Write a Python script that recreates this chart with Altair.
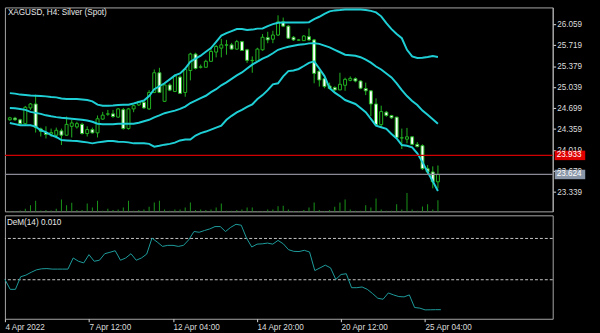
import json
import altair as alt
import pandas as pd

# ---------------- data ----------------
title_text = "XAGUSD, H4:  Silver (Spot)"
dem_title = "DeM(14) 0.010"

open_ = [24.510, 24.537, 24.510, 24.447, 24.702, 24.766, 24.362, 24.303, 24.279, 24.260,
         24.330, 24.260, 24.404, 24.394, 24.436, 24.287, 24.351, 24.298, 24.521, 24.601,
         24.606, 24.553, 24.675, 24.367, 24.686, 24.750, 24.793, 24.686, 24.953, 25.272,
         24.809, 25.074, 24.969, 25.202, 24.953, 25.309, 25.575, 25.361, 25.361, 25.457,
         25.607, 25.671, 25.719, 25.724, 25.655, 25.776, 25.644, 25.468, 25.457, 25.644,
         25.841, 25.815, 25.883, 26.096, 26.027, 25.847, 25.799, 25.792, 25.856, 25.804,
         25.298, 25.176, 25.058, 25.032, 24.994, 25.069, 25.149, 25.176, 25.138, 25.016,
         24.979, 24.766, 24.431, 24.633, 24.579, 24.553, 24.215, 24.196, 24.234, 24.112,
         24.091, 23.718, 23.665, 23.505]
close = [24.542, 24.510, 24.447, 24.713, 24.766, 24.383, 24.324, 24.271, 24.303, 24.340,
         24.260, 24.436, 24.458, 24.447, 24.287, 24.351, 24.298, 24.526, 24.585, 24.606,
         24.563, 24.686, 24.367, 24.686, 24.739, 24.803, 24.702, 24.953, 25.272, 24.953,
         25.074, 24.990, 25.218, 24.937, 25.325, 25.575, 25.341, 25.368, 25.457, 25.617,
         25.697, 25.724, 25.724, 25.655, 25.776, 25.633, 25.473, 25.473, 25.655, 25.847,
         25.804, 25.883, 26.096, 26.027, 25.831, 25.804, 25.804, 25.867, 25.804, 25.261,
         25.154, 25.048, 25.016, 24.994, 25.085, 25.165, 25.181, 25.138, 25.021, 24.979,
         24.766, 24.431, 24.643, 24.579, 24.542, 24.223, 24.218, 24.234, 24.112, 24.075,
         23.718, 23.665, 23.505, 23.624]
high = [24.558, 24.558, 24.526, 24.734, 24.782, 24.915, 24.383, 24.404, 24.367, 24.383,
        24.367, 24.563, 24.510, 24.478, 24.463, 24.404, 24.383, 24.579, 24.638, 24.670,
        24.670, 24.702, 24.702, 24.702, 24.755, 24.819, 24.814, 24.990, 25.325, 25.352,
        25.085, 25.101, 25.245, 25.229, 25.341, 25.596, 25.596, 25.404, 25.484, 25.671,
        25.724, 25.820, 25.804, 25.756, 25.804, 25.788, 25.660, 25.537, 25.676, 25.899,
        25.936, 25.952, 26.202, 26.166, 26.043, 25.867, 25.820, 25.883, 25.990, 25.820,
        25.309, 25.197, 25.112, 25.053, 25.272, 25.192, 25.213, 25.197, 25.149, 25.112,
        24.990, 24.857, 24.739, 24.654, 24.590, 24.558, 24.367, 24.378, 24.239, 24.149,
        24.112, 23.776, 23.755, 23.770]
low = [24.494, 24.494, 24.431, 24.431, 24.670, 24.303, 24.239, 24.207, 24.234, 24.207,
       24.101, 24.255, 24.223, 24.367, 24.271, 24.239, 24.287, 24.223, 24.510, 24.574,
       24.542, 24.542, 24.351, 24.351, 24.633, 24.734, 24.686, 24.670, 24.942, 24.942,
       24.798, 24.974, 24.958, 24.926, 24.883, 25.149, 25.325, 25.341, 25.357, 25.452,
       25.521, 25.521, 25.564, 25.644, 25.644, 25.628, 25.431, 25.272, 25.452, 25.628,
       25.750, 25.750, 25.867, 26.011, 25.820, 25.788, 25.788, 25.788, 25.788, 25.101,
       25.048, 25.021, 25.005, 24.974, 24.990, 24.979, 25.133, 25.117, 25.005, 24.910,
       24.569, 24.415, 24.394, 24.558, 24.526, 24.207, 24.037, 24.128, 24.096, 24.064,
       23.697, 23.621, 23.399, 23.399]
volume = [200, 200, 400, 1080, 2520, 4280, 400, 520, 400, 1080,
          4800, 2520, 3480, 520, 520, 3200, 1600, 4280, 280, 1080,
          520, 800, 1600, 4280, 280, 520, 800, 1880, 3600, 4280,
          800, 280, 800, 800, 1600, 3600, 520, 800, 520, 800,
          1600, 3200, 280, 280, 520, 800, 1600, 1600, 120, 120,
          800, 800, 2120, 2280, 800, 120, 120, 520, 1600, 3600,
          520, 120, 520, 1880, 3600, 4800, 800, 280, 280, 2520,
          1600, 5200, 800, 280, 280, 2920, 800, 7480, 800, 280,
          2000, 2920, 800, 4520]
bb_upper = [24.942, 24.934, 24.918, 24.910, 24.902, 24.899, 24.894, 24.889, 24.878, 24.873,
            24.854, 24.846, 24.846, 24.846, 24.838, 24.830, 24.809, 24.755, 24.739, 24.739,
            24.742, 24.750, 24.755, 24.755, 24.774, 24.798, 24.822, 24.894, 25.005, 25.053,
            25.101, 25.165, 25.229, 25.261, 25.341, 25.452, 25.500, 25.548, 25.612, 25.671,
            25.772, 25.875, 25.915, 25.947, 25.979, 25.979, 25.963, 25.971, 25.987, 25.990,
            26.027, 26.059, 26.083, 26.086, 26.086, 26.086, 26.086, 26.086, 26.091, 26.139,
            26.179, 26.226, 26.266, 26.282, 26.287, 26.295, 26.298, 26.298, 26.295, 26.290,
            26.274, 26.250, 26.186, 26.075, 25.979, 25.899, 25.831, 25.644, 25.537, 25.511,
            25.516, 25.527, 25.543, 25.527]
bb_middle = [24.702, 24.697, 24.686, 24.670, 24.638, 24.622, 24.606, 24.582, 24.566, 24.553,
             24.542, 24.534, 24.526, 24.518, 24.510, 24.499, 24.478, 24.447, 24.439, 24.436,
             24.439, 24.447, 24.447, 24.447, 24.447, 24.463, 24.487, 24.510, 24.550, 24.582,
             24.617, 24.638, 24.659, 24.686, 24.723, 24.782, 24.819, 24.862, 24.899, 24.958,
             25.005, 25.069, 25.117, 25.173, 25.229, 25.277, 25.341, 25.404, 25.452, 25.500,
             25.537, 25.588, 25.644, 25.671, 25.692, 25.708, 25.724, 25.732, 25.748, 25.751,
             25.740, 25.711, 25.684, 25.644, 25.604, 25.564, 25.556, 25.548, 25.524, 25.484,
             25.436, 25.373, 25.325, 25.261, 25.197, 25.101, 24.990, 24.894, 24.814, 24.750,
             24.659, 24.590, 24.519, 24.447]
bb_lower = [24.458, 24.439, 24.420, 24.420, 24.420, 24.399, 24.340, 24.311, 24.260, 24.231,
            24.181, 24.175, 24.170, 24.167, 24.155, 24.144, 24.128, 24.144, 24.155, 24.167,
            24.167, 24.155, 24.152, 24.144, 24.128, 24.128, 24.128, 24.120, 24.075, 24.088,
            24.107, 24.120, 24.139, 24.175, 24.191, 24.191, 24.255, 24.295, 24.319, 24.351,
            24.383, 24.415, 24.510, 24.574, 24.630, 24.670, 24.718, 24.758, 24.846, 24.910,
            24.990, 25.085, 25.101, 25.213, 25.298, 25.309, 25.333, 25.381, 25.432, 25.457,
            25.341, 25.218, 25.021, 24.950, 24.894, 24.830, 24.798, 24.766, 24.702, 24.633,
            24.526, 24.415, 24.388, 24.362, 24.279, 24.207, 24.101, 24.088, 24.064, 23.968,
            23.824, 23.665, 23.513, 23.357]
dem = [0.303, 0.207, 0.207, 0.329, 0.345, 0.372, 0.396, 0.406, 0.408, 0.403,
       0.403, 0.403, 0.403, 0.511, 0.479, 0.463, 0.543, 0.479, 0.489, 0.552,
       0.566, 0.581, 0.489, 0.511, 0.552, 0.489, 0.511, 0.549, 0.703, 0.665,
       0.623, 0.633, 0.633, 0.623, 0.633, 0.687, 0.767, 0.760, 0.777, 0.792,
       0.815, 0.815, 0.767, 0.808, 0.837, 0.828, 0.703, 0.617, 0.645, 0.648,
       0.655, 0.645, 0.681, 0.648, 0.591, 0.575, 0.573, 0.585, 0.569, 0.389,
       0.415, 0.441, 0.415, 0.303, 0.351, 0.358, 0.223, 0.223, 0.230, 0.207,
       0.166, 0.121, 0.111, 0.172, 0.153, 0.137, 0.134, 0.153, 0.031, 0.025,
       0.008, 0.009, 0.010, 0.010]

date_ticks = [0, 16, 32, 48, 64, 80]
date_labels = ["4 Apr 2022", "7 Apr 12:00", "12 Apr 04:00", "14 Apr 20:00",
               "20 Apr 12:00", "25 Apr 04:00"]
price_ticks = [26.059, 25.719, 25.379, 25.039, 24.699, 24.359, 24.019, 23.679, 23.339]
dem_ticks = [0.924, 0.7, 0.3, -0.078]
dem_levels = [0.7, 0.3]
level_prices = [23.933, 23.624]
level_names = ["level", "bid"]

# ---------------- build tables ----------------
n = len(close)
bars = list(range(n))
df = pd.DataFrame({"bar": bars, "open": open_, "close": close, "high": high,
                   "low": low, "volume": volume})
df["dir"] = ["up" if c >= o else "down" for o, c in zip(open_, close)]

bands = pd.concat([
    pd.DataFrame({"bar": bars, "price": bb_upper, "band": "upper"}),
    pd.DataFrame({"bar": bars, "price": bb_middle, "band": "middle"}),
    pd.DataFrame({"bar": bars, "price": bb_lower, "band": "lower"}),
])
dem_df = pd.DataFrame({"bar": bars, "dem": dem})
levels_df = pd.DataFrame({"price": level_prices, "kind": level_names})
dem_levels_df = pd.DataFrame({"v": dem_levels})

FONT = "Liberation Sans"
FS = 8.3
TXT = "#dcdcdc"
GREEN = "#22b422"
CYAN = "#1fcfd6"
W = 556

x_scale = alt.Scale(domain=[0, 104.3], nice=False, zero=False)
p_scale = alt.Scale(domain=[23.026, 26.330], nice=False, zero=False)
X = alt.X("bar:Q", scale=x_scale, axis=None)

price_axis = alt.Axis(orient="right", values=price_ticks, format=".3f", title=None,
                      tickSize=3, labelPadding=1, grid=False, labelOverlap=False,
                      labelFlush=False, domainColor="#b4b4b4", tickColor=TXT,
                      labelColor=TXT, labelFont=FONT, labelFontSize=FS)

vol = alt.Chart(df).mark_bar(width=1, color="#1a941a").encode(
    x=X, y=alt.Y("volume:Q", scale=alt.Scale(domain=[0, 82800]), axis=None))

wicks = alt.Chart(df).mark_rule(color=GREEN, strokeWidth=1).encode(
    x=X, y=alt.Y("low:Q", scale=p_scale, axis=price_axis), y2="high:Q")

bodies = alt.Chart(df).mark_bar(width=3, stroke=GREEN, strokeWidth=1).encode(
    x=X,
    y=alt.Y("open:Q", scale=p_scale, axis=None), y2="close:Q",
    fill=alt.condition(alt.datum.dir == "up", alt.value("#000000"), alt.value("#ffffff")))

band_lines = alt.Chart(bands).mark_line(color=CYAN, strokeWidth=2).encode(
    x=X, y=alt.Y("price:Q", scale=p_scale, axis=None), detail="band:N")

level_rules = alt.Chart(levels_df).mark_rule(strokeWidth=1.3).encode(
    y=alt.Y("price:Q", scale=p_scale, axis=None),
    color=alt.Color("kind:N", scale=alt.Scale(domain=level_names,
                                               range=["#d00000", "#8a8a96"]), legend=None))

tag_shape = "M-1,-0.31L1,-0.31L1,0.31L-1,0.31Z"
tags = alt.Chart(levels_df).mark_point(shape=tag_shape, size=961, filled=True,
                                       opacity=1, strokeWidth=0).encode(
    x=alt.value(W + 17.5),
    y=alt.Y("price:Q", scale=p_scale, axis=None),
    fill=alt.Color("kind:N", scale=alt.Scale(domain=level_names,
                                              range=["#e00000", "#8a97a8"]), legend=None))
tag_text = alt.Chart(levels_df).mark_text(align="left", baseline="middle", font=FONT,
                                          fontSize=FS, color="#ffffff").encode(
    x=alt.value(W + 4),
    y=alt.Y("price:Q", scale=p_scale, axis=None),
    text=alt.Text("price:Q", format=".3f"))

title_mark = alt.Chart(pd.DataFrame({"t": [title_text]})).mark_text(
    align="left", baseline="middle", font=FONT, fontSize=FS, color="#e8e8e8").encode(
    x=alt.value(3), y=alt.value(5.5), text="t:N")

top = alt.layer(vol, wicks, bodies, band_lines, level_rules, tags, tag_text,
                title_mark).resolve_scale(y="independent", fill="independent",
                                          color="independent").properties(width=W, height=207)

# ---------------- lower panel ----------------
labels_js = json.dumps(date_labels)
ticks_js = json.dumps(date_ticks)
x_axis = alt.Axis(orient="bottom", values=date_ticks,
                  labelExpr=f"{labels_js}[indexof({ticks_js}, datum.value)]",
                  labelAlign="left", labelFlush=False, labelOverlap=False,
                  tickSize=3, labelPadding=1, domain=False, grid=False, title=None,
                  tickColor=TXT, labelColor=TXT, labelFont=FONT, labelFontSize=FS)
d_scale = alt.Scale(domain=[-0.078, 0.924], nice=False, zero=False)
dem_axis = alt.Axis(orient="right", values=dem_ticks, title=None,
                    labelExpr="replace(format(datum.value, '.3f'), '\u2212', '-')",
                    labelFlush=True, labelOverlap=False, tickSize=3, labelPadding=1,
                    grid=False, domainColor="#b4b4b4", tickColor=TXT, labelColor=TXT,
                    labelFont=FONT, labelFontSize=FS)

dem_line = alt.Chart(dem_df).mark_line(color="#1e9c9c", strokeWidth=1).encode(
    x=alt.X("bar:Q", scale=x_scale, axis=x_axis),
    y=alt.Y("dem:Q", scale=d_scale, axis=dem_axis))
dem_rules = alt.Chart(dem_levels_df).mark_rule(color="#c8c8c8", strokeWidth=1,
                                               strokeDash=[3, 2]).encode(
    y=alt.Y("v:Q", scale=d_scale, axis=None))
dem_label = alt.Chart(pd.DataFrame({"t": [dem_title]})).mark_text(
    align="left", baseline="middle", font=FONT, fontSize=FS, color="#e8e8e8").encode(
    x=alt.value(2), y=alt.value(8), text="t:N")

bottom = alt.layer(dem_rules, dem_line, dem_label).properties(width=W, height=105)

chart = alt.vconcat(top, bottom, spacing=2).properties(
    background="#000000",
    padding={"left": 2, "top": 2, "right": 14, "bottom": 6},
).configure_view(stroke="#a8a8a8", strokeWidth=1, fill="#000000")

chart.save("out.html", embed_options={"renderer": "svg", "actions": False})
